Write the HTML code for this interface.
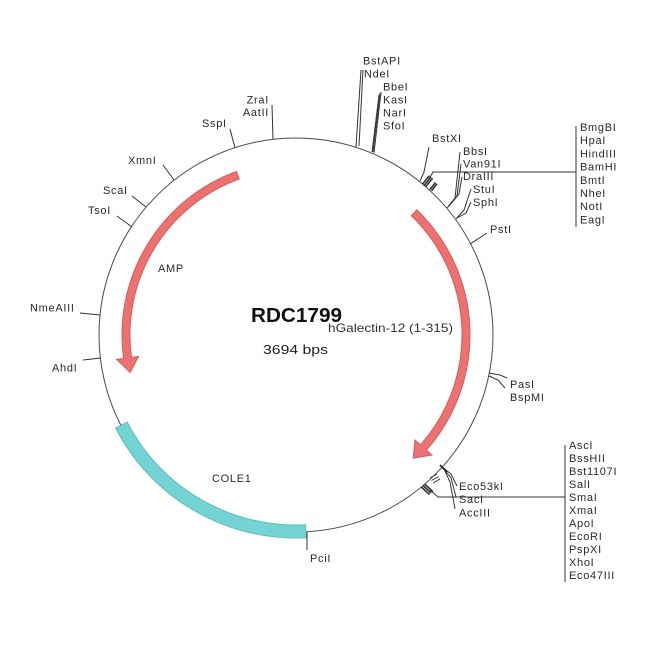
<!DOCTYPE html>
<html>
<head>
<meta charset="utf-8">
<style>
  html,body{margin:0;padding:0;background:#fff;}
  svg{display:block;}
  .lb{font-family:"Liberation Sans",Arial,sans-serif;font-size:11px;letter-spacing:0.7px;fill:#2a2a2a;}
  .ln{stroke:#333;stroke-width:1;fill:none;}
</style>
</head>
<body>
<svg width="650" height="650" viewBox="0 0 650 650" xmlns="http://www.w3.org/2000/svg">
  <rect width="650" height="650" fill="#fff"/>

  <!-- backbone circle -->
  <circle cx="296" cy="335" r="197" fill="none" stroke="#4a4a4a" stroke-width="1"/>

  <!-- AMP arrow (counterclockwise) -->
  <path d="M236.5,171.5 A174,174 0 0 0 123.6,358.5 L116.6,359.4 L130.2,372.4 L138.5,356.5 L131.5,357.4 A166,166 0 0 1 239.2,179.0 Z"
        fill="#ec7272" stroke="#d65d5d" stroke-width="1"/>

  <!-- hGalectin arrow (clockwise) -->
  <path d="M416.9,209.8 A174,174 0 0 1 426.5,450.1 L432.0,455.0 L413.2,458.1 L415.0,440.0 L420.5,444.8 A166,166 0 0 0 411.3,215.6 Z"
        fill="#ec7272" stroke="#d65d5d" stroke-width="1"/>

  <!-- COLE1 band -->
  <path d="M306.3,537.7 A203,203 0 0 1 115.6,428.1 L127.2,422.1 A190,190 0 0 0 305.6,524.8 Z"
        fill="#74d4d4" stroke="#5dbdbd" stroke-width="1"/>

  <!-- tick lines -->
  <!-- BstAPI / NdeI -->
  <polyline class="ln" points="356,147 361,70"/>
  <polyline class="ln" points="359,146 363,70"/>
  <!-- BbeI group -->
  <polyline class="ln" points="372,152 379,95"/>
  <polyline class="ln" points="373,152 380,93"/>
  <polyline class="ln" points="374,153 381,92"/>
  <!-- ZraI / AatII -->
  <polyline class="ln" points="272,105 273,139"/>
  <!-- SspI -->
  <polyline class="ln" points="230,129 235,148"/>
  <!-- BstXI -->
  <polyline class="ln" points="420,181 424,172 429,147"/>
  <!-- top cluster block -->
  <g stroke="#333" stroke-width="1.6">
    <line x1="422.3" y1="184.3" x2="429.3" y2="175.8"/>
    <line x1="424.0" y1="185.5" x2="431.0" y2="177.0"/>
    <line x1="425.6" y1="186.7" x2="432.6" y2="178.3"/>
    <line x1="430.0" y1="189.5" x2="435.5" y2="182.5"/>
    <line x1="431.6" y1="190.8" x2="437.0" y2="183.8"/>
  </g>
  <polyline class="ln" points="428,181 433,172 576,172"/>
  <line class="ln" x1="576" y1="126" x2="576" y2="227"/>
  <!-- BbsI group -->
  <polyline class="ln" points="447,208 455,198 460,152"/>
  <polyline class="ln" points="448,207 457,196 461,164"/>
  <polyline class="ln" points="449,206 459,194 462,177"/>
  <!-- StuI / SphI -->
  <polyline class="ln" points="456,219 464,210 471,189"/>
  <polyline class="ln" points="457,218 466,213 471,202"/>
  <!-- PstI -->
  <polyline class="ln" points="470.5,243.7 487,233"/>
  <!-- PasI / BspMI -->
  <polyline class="ln" points="489,373 500,375 507,378"/>
  <polyline class="ln" points="489,376 498,380 505,388"/>
  <!-- Eco53kI group -->
  <polyline class="ln" points="442,467 451,474 457,486"/>
  <polyline class="ln" points="443,468 451,478 456,497"/>
  <polyline class="ln" points="444,469 450,482 455,509"/>
  <line x1="440" y1="465" x2="447" y2="472" stroke="#222" stroke-width="1.6"/>
  <!-- bottom cluster block -->
  <g stroke="#333" stroke-width="1.6">
    <line x1="421.3" y1="487.0" x2="429.5" y2="494.5"/>
    <line x1="423.0" y1="485.5" x2="431.2" y2="493.0"/>
    <line x1="424.6" y1="484.0" x2="432.8" y2="491.5"/>
  </g>
  <g stroke="#333" stroke-width="1">
    <line x1="430" y1="478" x2="437" y2="474"/>
    <line x1="431.5" y1="480.5" x2="438.5" y2="476.5"/>
    <line x1="433" y1="483" x2="440" y2="479"/>
  </g>
  <polyline class="ln" points="430,490 438,497 565,497"/>
  <line class="ln" x1="565" y1="445" x2="565" y2="582"/>
  <!-- left side -->
  <polyline class="ln" points="163,165 174,180"/>
  <polyline class="ln" points="132,196 146,207"/>
  <polyline class="ln" points="117,216 132,227"/>
  <polyline class="ln" points="80,313 100,315"/>
  <polyline class="ln" points="83,360 101,358"/>
  <!-- PciI -->
  <polyline class="ln" points="307,532 307,550"/>

  <!-- labels -->
  <g class="lb">
    <text x="363" y="64.5">BstAPI</text>
    <text x="364" y="77.5">NdeI</text>
    <text x="383" y="90.5">BbeI</text>
    <text x="383" y="103.5">KasI</text>
    <text x="383" y="116.5">NarI</text>
    <text x="383" y="129.5">SfoI</text>
    <text x="269" y="103.5" text-anchor="end">ZraI</text>
    <text x="269" y="116" text-anchor="end">AatII</text>
    <text x="202" y="127">SspI</text>
    <text x="432" y="142">BstXI</text>
    <text x="463" y="155">BbsI</text>
    <text x="463" y="167.5">Van91I</text>
    <text x="463" y="180">DraIII</text>
    <text x="473" y="193">StuI</text>
    <text x="473" y="206">SphI</text>
    <text x="490" y="233">PstI</text>

    <text x="580" y="131">BmgBI</text>
    <text x="580" y="144.2">HpaI</text>
    <text x="580" y="157.4">HindIII</text>
    <text x="580" y="170.6">BamHI</text>
    <text x="580" y="183.8">BmtI</text>
    <text x="580" y="197">NheI</text>
    <text x="580" y="210.2">NotI</text>
    <text x="580" y="223.4">EagI</text>

    <text x="128" y="164">XmnI</text>
    <text x="103" y="194">ScaI</text>
    <text x="88" y="214">TsoI</text>
    <text x="30" y="311.5">NmeAIII</text>
    <text x="52" y="371.5">AhdI</text>

    <text x="510" y="388">PasI</text>
    <text x="510" y="401">BspMI</text>

    <text x="459" y="490">Eco53kI</text>
    <text x="459" y="503">SacI</text>
    <text x="459" y="516.5">AccIII</text>

    <text x="569" y="449">AscI</text>
    <text x="569" y="462">BssHII</text>
    <text x="569" y="475">Bst1107I</text>
    <text x="569" y="488">SalI</text>
    <text x="569" y="501">SmaI</text>
    <text x="569" y="514">XmaI</text>
    <text x="569" y="527">ApoI</text>
    <text x="569" y="540">EcoRI</text>
    <text x="569" y="553">PspXI</text>
    <text x="569" y="566">XhoI</text>
    <text x="569" y="579">Eco47III</text>

    <text x="310" y="562">PciI</text>
    <text x="158" y="272">AMP</text>
    <text x="212" y="482">COLE1</text>
  </g>

  <!-- center text -->
  <text x="251" y="322" font-family="Liberation Sans, Arial, sans-serif" font-size="20" font-weight="bold" fill="#111" textLength="91" lengthAdjust="spacingAndGlyphs">RDC1799</text>
  <text x="328" y="332" font-family="Liberation Sans, Arial, sans-serif" font-size="12" fill="#333" textLength="125" lengthAdjust="spacingAndGlyphs">hGalectin-12 (1-315)</text>
  <text x="263" y="354" font-family="Liberation Sans, Arial, sans-serif" font-size="13" fill="#222" textLength="65" lengthAdjust="spacingAndGlyphs">3694 bps</text>
</svg>
</body>
</html>
